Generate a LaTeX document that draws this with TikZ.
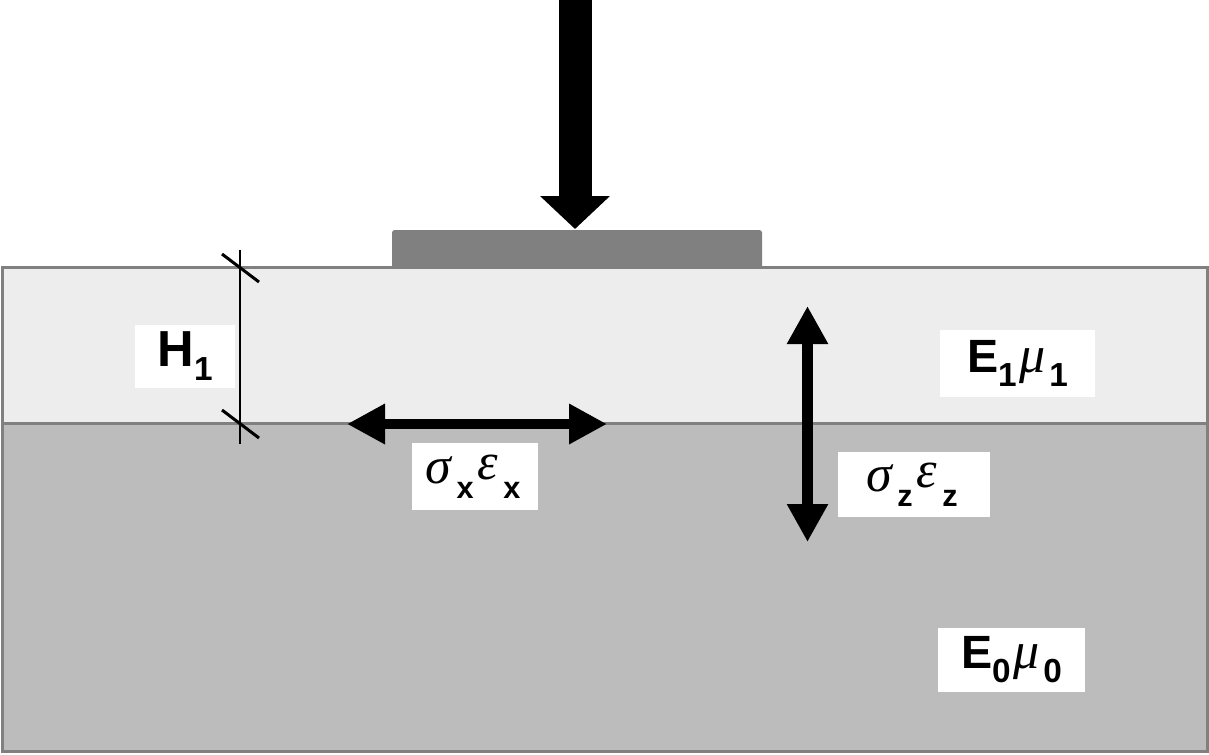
\documentclass[tikz,border=0pt]{standalone}
\usepackage{fontspec}
\setmainfont{Liberation Sans}
\newfontfamily\greekserif{Liberation Serif}
\usetikzlibrary{arrows.meta}
\definecolor{edgegray}{HTML}{808080}
\definecolor{toplayer}{HTML}{EDEDED}
\definecolor{botlayer}{HTML}{BCBCBC}
\newcommand{\lowsub}[1]{\raisebox{-10.5pt}{\fontsize{25}{25}\selectfont\bfseries #1}}
\newcommand{\lowsubx}[1]{\hspace{4pt}\raisebox{-11pt}{\fontsize{23}{23}\selectfont\bfseries #1}\hspace{3pt}}
\newcommand{\grk}[1]{{\greekserif\itshape\mdseries\fontsize{39}{40}\selectfont #1}}
\tikzset{
  labelbox/.style={fill=white, inner sep=0pt, font=\fontsize{35}{40}\selectfont\bfseries, align=center},
  layeredge/.style={draw=edgegray, line width=2.25pt},
  bigarrow/.style={line width=#1, line cap=butt},
}
\begin{document}
\begin{tikzpicture}[x=0.75pt,y=-0.75pt]
\useasboundingbox (0,0) rectangle (1209,754);
% plate
\fill[edgegray, rounded corners=2pt] (392,270) -- (392,230) -- (762,230) -- (762,270) -- cycle;
% layers
\fill[botlayer] (2,423) rectangle (1207,751);
\fill[toplayer] (2,267) rectangle (1207,423);
\draw[layeredge] (2,267) rectangle (1207,751);
\draw[layeredge] (2,423) -- (1207,423);
% load arrow
\coordinate (loadtop) at (575,0);
\coordinate (loadtip) at (575,229);
\draw[bigarrow=24.75pt, -{Triangle[length=24.75pt,width=51pt]}] (loadtop) -- (loadtip);
% thickness dimension
\coordinate (dimtop) at (240,250);
\coordinate (dimbot) at (240,444);
\draw[line width=1.5pt] (dimtop) -- (dimbot);
\coordinate (tk1a) at (222,254); \coordinate (tk1b) at (259,282);
\coordinate (tk2a) at (222,410); \coordinate (tk2b) at (259,438);
\draw[line width=2.25pt] (tk1a) -- (tk1b);
\draw[line width=2.25pt] (tk2a) -- (tk2b);
% horizontal stress arrow
\coordinate (hxl) at (347,424);
\coordinate (hxr) at (607,424);
\draw[bigarrow=7.5pt, {Triangle[length=28.5pt,width=28.5pt]}-{Triangle[length=28.5pt,width=28.5pt]}] (hxl) -- (hxr);
% vertical stress arrow
\coordinate (vzt) at (807.5,306);
\coordinate (vzb) at (807.5,542);
\draw[bigarrow=8.25pt, {Triangle[length=28.5pt,width=29pt]}-{Triangle[length=28.5pt,width=29pt]}] (vzt) -- (vzb);
% labels
\node[labelbox, minimum width=75pt, minimum height=47pt] (hlab) at (185,356.5) {{\fontsize{38}{40}\selectfont H}\lowsub{1}};
\node[labelbox, minimum width=94.5pt, minimum height=50pt] (sxlab) at (475,476.5) {\grk{σ}\lowsubx{x}\raisebox{3pt}{\grk{ε}}\lowsubx{x}};
\node[labelbox, minimum width=116pt, minimum height=50pt] (e1lab) at (1017.5,363.5) {E\lowsub{1}\hspace{2pt}\grk{μ}\hspace{3pt}\lowsub{1}};
\node[labelbox, minimum width=114pt, minimum height=49pt] (szlab) at (914,484.5) {\grk{σ}\lowsubx{z}\raisebox{3pt}{\grk{ε}}\lowsubx{z}};
\node[labelbox, minimum width=110pt, minimum height=48pt] (e0lab) at (1011.5,660) {E\lowsub{0}\hspace{2pt}\grk{μ}\hspace{3pt}\lowsub{0}};
\end{tikzpicture}
\end{document}
